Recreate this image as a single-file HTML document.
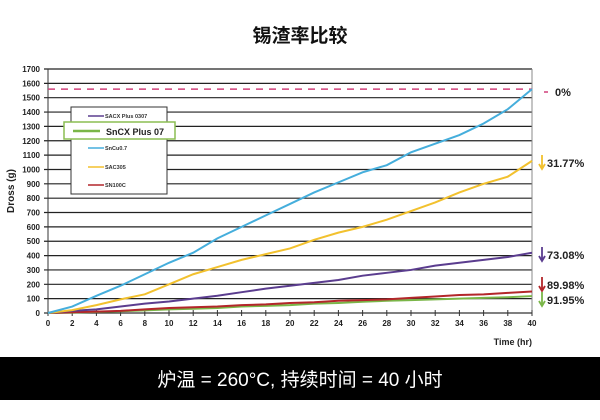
<!DOCTYPE html>
<html><head><meta charset="utf-8"><style>
body{margin:0;background:#fff;}
#wrap{position:relative;width:600px;height:420px;overflow:hidden;font-family:"Liberation Sans","Noto Sans CJK SC",sans-serif;}
</style></head><body>
<div id="wrap">
<svg id="c" width="600" height="420"></svg>
</div>
<script>
const xs=[0,2,4,6,8,10,12,14,16,18,20,22,24,26,28,30,32,34,36,38,40];
const sncu=[0,45,120,190,270,350,420,520,600,680,760,840,910,980,1030,1120,1180,1240,1320,1420,1560];
const sac305=[0,20,55,95,130,200,270,320,370,410,450,510,560,600,650,710,770,840,900,950,1060];
const sacx=[0,15,25,45,65,80,100,120,145,170,190,210,230,260,280,300,330,350,370,390,420];
const sn100c=[0,5,10,15,25,35,40,45,55,60,70,75,85,90,95,105,115,125,130,140,150];
const sncx=[0,3,8,12,18,25,30,35,45,50,55,65,70,78,85,90,95,100,105,110,118];
const yTicks=[0,100,200,300,400,500,600,700,800,900,1000,1100,1200,1300,1400,1500,1600,1700];
const xTicks=[0,2,4,6,8,10,12,14,16,18,20,22,24,26,28,30,32,34,36,38,40];
const refLine=1560;
const pctLabels=["0%","31.77%","73.08%","89.98%","91.95%"];
const X=v=>48+v/40*484, Y=v=>313-v/1700*244;
const s=document.getElementById('c'),NS="http://www.w3.org/2000/svg";
function el(t,a,txt){const e=document.createElementNS(NS,t);for(const k in a)e.setAttribute(k,a[k]);if(txt!=null)e.textContent=txt;s.appendChild(e);return e;}
let e;
e=el('text',{x:300,y:42,'text-anchor':'middle','font-size':19,'font-weight':'bold',fill:'#111'},'锡渣率比较');


yTicks.forEach(v=>{
e=el('line',{x1:44,x2:532,y1:Y(v),y2:Y(v),stroke:v===0?'#333':'#222','stroke-width':1.2});


e=el('text',{x:40,y:Y(v)+3,'text-anchor':'end','font-size':8,'font-weight':'bold',fill:'#222'},v);


});
e=el('line',{x1:48,x2:48,y1:Y(1700),y2:313,stroke:'#333'});


e=el('line',{x1:532,x2:532,y1:Y(1700),y2:313,stroke:'#888'});


xTicks.forEach(v=>{
e=el('line',{x1:X(v),x2:X(v),y1:310,y2:316,stroke:'#333'});


e=el('text',{x:X(v),y:326,'text-anchor':'middle','font-size':8,'font-weight':'bold',fill:'#222'},v);


});
e=el('text',{x:532,y:345,'text-anchor':'end','font-size':9,'font-weight':'bold',fill:'#222'},'Time (hr)');


e=el('text',{x:0,y:0,'text-anchor':'middle','font-size':10,'font-weight':'bold',fill:'#222',transform:'translate(14,191) rotate(-90)'},'Dross (g)');


e=el('line',{x1:48,x2:532,y1:Y(refLine),y2:Y(refLine),stroke:'#d0407a','stroke-width':1.5,'stroke-dasharray':'7,6'});


const series=[[sncx,'#7ab648','sncx-plus-07-line'],[sn100c,'#b3262a','sn100c-line'],[sacx,'#5b3d8f','sacx-plus-0307-line'],[sac305,'#f2c12e','sac305-line'],[sncu,'#45aedc','sncu07-line']];
series.forEach(([d,c,n])=>{
e=el('polyline',{points:d.map((v,i)=>X(xs[i])+','+Y(v)).join(' '),fill:'none',stroke:c,'stroke-width':2});


});
// legend
e=el('rect',{x:71,y:107,width:96,height:87,fill:'#fff',stroke:'#333'});


const leg=[['SACX Plus 0307','#5b3d8f',116],['SnCu0.7','#45aedc',148],['SAC305','#f2c12e',167],['SN100C','#b3262a',185]];
leg.forEach(([t,c,y])=>{
e=el('line',{x1:88,x2:104,y1:y,y2:y,stroke:c,'stroke-width':1.5});


e=el('text',{x:105,y:y+2,'font-size':5.5,'font-weight':'bold',fill:'#333'},t);


});
e=el('rect',{x:64,y:122,width:111,height:17,fill:'#fff',stroke:'#8bbd52','stroke-width':1.5});


e=el('line',{x1:73,x2:100,y1:131,y2:131,stroke:'#7ab648','stroke-width':2.5});


e=el('text',{x:106,y:135,'font-size':9,'font-weight':'bold',fill:'#222'},'SnCX Plus 07');


// pct labels
const pl=[[92,null,'#d0407a'],[163,'#f2c12e'],[255,'#5b3d8f'],[285,'#b3262a'],[300,'#7ab648']];
pl.forEach(([y,c],i)=>{
if(i===0){e=el('line',{x1:544,x2:548,y1:y,y2:y,stroke:'#d0407a','stroke-width':1.5});}
else{e=el('path',{d:`M542,${y-8} L542,${y+4} M539,${y+1} L542,${y+6} L545,${y+1}`,stroke:c,'stroke-width':1.8,fill:'none'});}


e=el('text',{x:i===0?555:547,y:y+4,'font-size':11,'font-weight':'bold',fill:'#222'},pctLabels[i]);


});
e=el('rect',{x:0,y:357,width:600,height:43,fill:'#000'});


e=el('text',{x:300,y:386,'text-anchor':'middle','font-size':19,fill:'#fff'},'炉温 = 260°C, 持续时间 = 40 小时');


</script>
</body></html>
